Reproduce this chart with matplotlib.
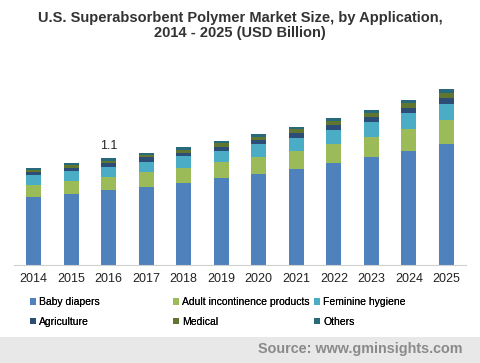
import matplotlib
matplotlib.use("Agg")
import matplotlib.pyplot as plt
import numpy as np
from matplotlib.patches import Rectangle

years = ["2014", "2015", "2016", "2017", "2018", "2019", "2020", "2021", "2022", "2023", "2024", "2025"]
series_names = ["Baby diapers", "Adult incontinence products", "Feminine hygiene",
                "Agriculture", "Medical", "Others"]
baby_diapers = [0.704, 0.735, 0.773, 0.807, 0.848, 0.900, 0.938, 0.990, 1.052, 1.113, 1.175, 1.251]
adult_incontinence = [0.121, 0.134, 0.137, 0.155, 0.155, 0.165, 0.175, 0.186, 0.199, 0.206, 0.227, 0.244]
feminine_hygiene = [0.103, 0.103, 0.103, 0.103, 0.124, 0.113, 0.134, 0.134, 0.141, 0.155, 0.165, 0.165]
agriculture = [0.034, 0.031, 0.041, 0.045, 0.031, 0.041, 0.041, 0.052, 0.052, 0.052, 0.052, 0.062]
medical = [0.021, 0.025, 0.021, 0.027, 0.031, 0.041, 0.034, 0.041, 0.041, 0.041, 0.052, 0.052]
others = [0.018, 0.021, 0.025, 0.018, 0.031, 0.021, 0.031, 0.021, 0.031, 0.031, 0.031, 0.041]
colors = ["#4f81bd", "#9bbb59", "#4bacc6", "#2c4d75", "#5f7530", "#276a7c"]
annot_year = "2016"
annot_text = "1.1"

plt.rcParams['font.family'] = ['Liberation Sans', 'DejaVu Sans']

fig = plt.figure(figsize=(4.8, 3.63), dpi=100)
W, H = 480, 363
ax = fig.add_axes([14 / W, (H - 265) / H, (466 - 14) / W, 200 / H])

data = [baby_diapers, adult_incontinence, feminine_hygiene, agriculture, medical, others]
x = np.arange(len(years))
bottom = np.zeros(len(years))
handles = []
for vals, c, name in zip(data, colors, series_names):
    b = ax.bar(x, vals, width=0.4, bottom=bottom, color=c, label=name, linewidth=0)
    handles.append(b)
    bottom += np.array(vals)

i = years.index(annot_year)
ax.text(x[i], bottom[i] + 0.06, annot_text, ha='center', va='bottom', fontsize=9, color='#222222')

ax.set_xlim(-0.52, len(years) - 0.48)
ax.set_ylim(0, 200 / 97)
ax.set_xticks(x)
ax.set_xticklabels(years, fontsize=9, color='#222222')
ax.set_yticks([])
for s in ['top', 'right', 'left']:
    ax.spines[s].set_visible(False)
ax.spines['bottom'].set_color('#d0d0d0')
ax.tick_params(axis='x', length=0, pad=6)

fig.text(0.5, 1 - 11 / H, "U.S. Superabsorbent Polymer Market Size, by Application,\n2014 - 2025 (USD Billion)",
         ha='center', va='top', fontsize=10.5, fontweight='bold', color='#333333', linespacing=1.1)

# legend: 3 fixed-width columns, 2 rows, row-major order
col_x = [26, 169, 310]
for c in range(3):
    idx = [c, c + 3]
    lg = fig.legend(handles=[handles[k] for k in idx], labels=[series_names[k] for k in idx],
                    ncol=1, loc='upper left', bbox_to_anchor=(col_x[c] / W, 1 - 293 / H),
                    frameon=False, fontsize=7.5, handlelength=0.55, handleheight=0.55,
                    handletextpad=0.3, labelspacing=0.9, borderaxespad=0)
    fig.add_artist(lg)

# footer band
fig.patches.append(Rectangle((0, 0), 1, (H - 337) / H, transform=fig.transFigure,
                             facecolor='#e8e8e8', edgecolor='none', zorder=0))
fig.text(462 / W, 1 - 349 / H, "Source: www.gminsights.com", ha='right', va='center',
         fontsize=10.4, fontweight='bold', color='#8a8a8a')

fig.savefig("out.png", dpi=100)
